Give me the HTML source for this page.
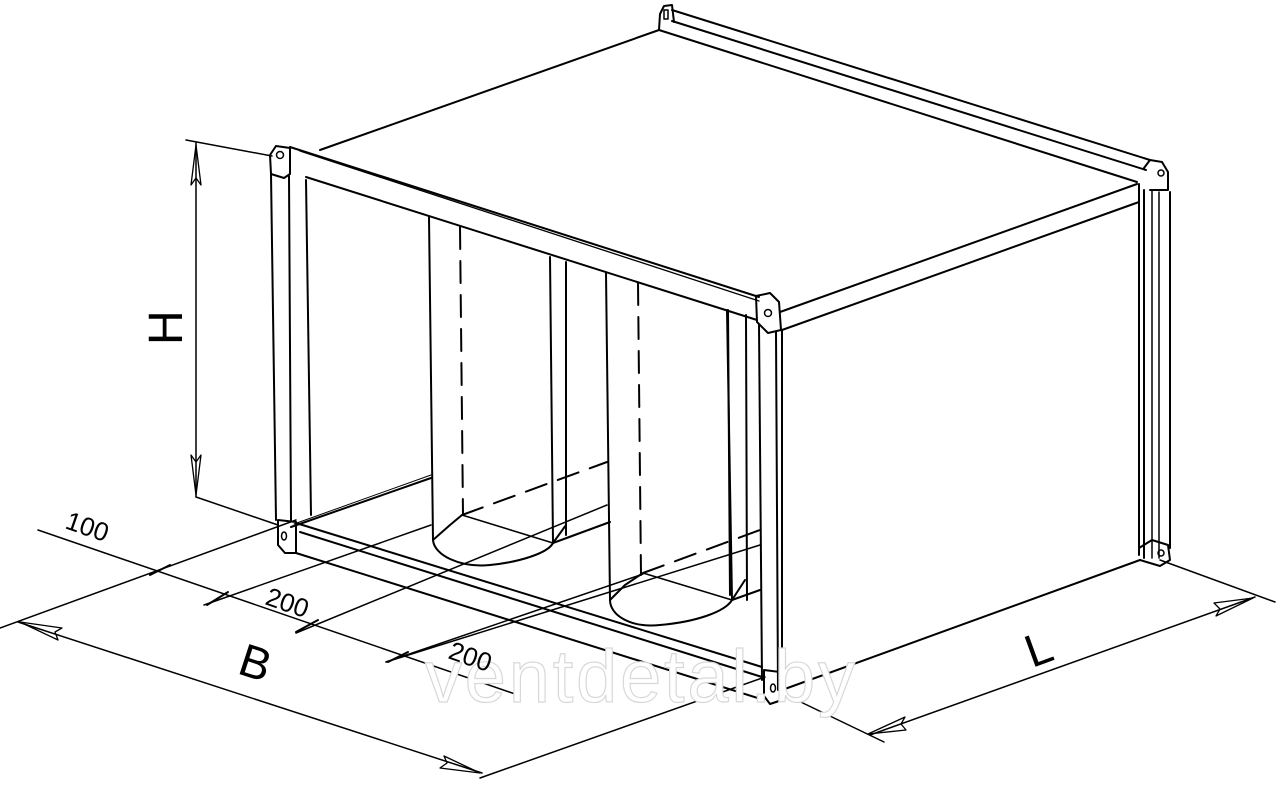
<!DOCTYPE html>
<html><head><meta charset="utf-8"><style>
html,body{margin:0;padding:0;background:#fff;}
svg{display:block;}
text{font-family:"Liberation Sans",sans-serif;}
</style></head><body>
<svg width="1280" height="786" viewBox="0 0 1280 786" xmlns="http://www.w3.org/2000/svg">
<g fill="none" stroke="#000" stroke-width="2" stroke-linejoin="round" stroke-linecap="round">
<line x1="320" y1="150" x2="659" y2="30"/>
<line x1="672" y1="10" x2="1150" y2="160"/>
<line x1="672" y1="21" x2="1146" y2="170"/>
<line x1="659" y1="30" x2="1137" y2="182"/>
<path d="M659 30 L660 14 L664 6 L672 5 L674 22"/>
<rect x="664" y="10" width="4" height="9" stroke-width="1.5"/>
<path d="M1144 168 L1150 160 L1162 162 L1168 172 L1168 190 L1150 190"/>
<circle cx="1161" cy="173" r="3" stroke-width="1.5"/>
<line x1="780" y1="312" x2="1137" y2="184"/>
<line x1="782" y1="330" x2="1139" y2="202"/>
<line x1="1139" y1="184" x2="1139" y2="555"/>
<line x1="1144" y1="190" x2="1144" y2="558"/>
<line x1="1152" y1="190" x2="1152" y2="558" stroke-width="1.5"/>
<line x1="1159" y1="192" x2="1159" y2="558" stroke-width="1.5"/>
<line x1="1170" y1="192" x2="1170" y2="548"/>
<path d="M1139 548 L1152 540 L1168 545 L1170 560 L1160 566 L1140 560"/>
<circle cx="1161" cy="553" r="3" stroke-width="1.5"/>
<line x1="782" y1="690" x2="1140" y2="560"/>
<line x1="290" y1="147" x2="759" y2="297"/>
<line x1="300" y1="151" x2="759" y2="301" stroke-width="1.3"/>
<line x1="306" y1="177" x2="757" y2="320"/>
<path d="M271 174 L270 155 L276 146 L290 148 L290 174 L284 178 Z"/>
<circle cx="280" cy="155" r="3.5" stroke-width="1.5"/>
<line x1="271" y1="174" x2="276" y2="520"/>
<line x1="289" y1="176" x2="291" y2="520"/>
<line x1="306" y1="180" x2="311" y2="515"/>
<path d="M278 520 L296 522 L296 553 L285 553 L278 545 Z"/>
<ellipse cx="284" cy="536" rx="2.5" ry="4" stroke-width="1.5"/>
<path d="M756 296 L770 293 L779 302 L781 330 L768 333 L757 322 Z"/>
<circle cx="768" cy="313" r="3.5" stroke-width="1.5"/>
<line x1="728" y1="310" x2="730" y2="595"/>
<line x1="746" y1="315" x2="747" y2="600"/>
<line x1="759" y1="325" x2="762" y2="680"/>
<line x1="776" y1="332" x2="778" y2="690"/>
<line x1="782" y1="330" x2="782" y2="692"/>
<path d="M764 670 L780 672 L782 700 L770 704 L764 696 Z"/>
<ellipse cx="773" cy="688" rx="2.5" ry="4" stroke-width="1.5"/>
<line x1="296" y1="523" x2="762" y2="667"/>
<line x1="300" y1="532" x2="762" y2="677"/>
<line x1="296" y1="553" x2="764" y2="700"/>
<line x1="291" y1="527" x2="431" y2="478"/>
<line x1="294" y1="524" x2="431" y2="475" stroke-width="1"/>
<line x1="429" y1="217" x2="433" y2="540"/>
<line x1="460" y1="227" x2="463" y2="515" stroke-dasharray="22 12"/>
<line x1="550" y1="257" x2="553" y2="543"/>
<line x1="566" y1="262" x2="566" y2="535"/>
<path d="M433 540 C434 555 460 568 490 565 C520 562 548 553 553 543"/>
<path d="M433 540 L450 525 L462 515"/>
<path d="M553 543 L566 525"/>
<line x1="462" y1="515" x2="607" y2="462" stroke-dasharray="22 12"/>
<line x1="553" y1="543" x2="610" y2="522"/>
<line x1="462" y1="515" x2="553" y2="543" stroke-width="1.5"/>
<line x1="606" y1="273" x2="610" y2="600"/>
<line x1="638" y1="283" x2="641" y2="575" stroke-dasharray="22 12"/>
<line x1="727" y1="310" x2="732" y2="600"/>
<path d="M610 600 C610 615 630 628 660 625 C695 622 725 612 732 600"/>
<path d="M610 600 L625 585 L643 573"/>
<path d="M732 600 L745 580"/>
<line x1="643" y1="573" x2="760" y2="530" stroke-dasharray="22 12"/>
<line x1="732" y1="600" x2="760" y2="590"/>
<line x1="643" y1="573" x2="732" y2="600" stroke-width="1.5"/>
<line x1="196" y1="143" x2="196" y2="497" stroke-width="1.5"/>
<line x1="186" y1="140" x2="272" y2="156" stroke-width="1.5"/>
<line x1="196" y1="497" x2="278" y2="525" stroke-width="1.5"/>
<path d="M196 145 L191 185 L196 178 L201 185 Z" stroke-width="1.3"/>
<path d="M196 495 L191 455 L196 462 L201 455 Z" stroke-width="1.3"/>
<line x1="38" y1="530" x2="518" y2="695" stroke-width="1.5"/>
<line x1="0" y1="628" x2="296" y2="520" stroke-width="1.5"/>
<line x1="204" y1="605" x2="431" y2="525" stroke-width="1.5"/>
<line x1="296" y1="633" x2="607" y2="505" stroke-width="1.5"/>
<line x1="386" y1="662" x2="643" y2="574" stroke-width="1.5"/>
<line x1="386" y1="662" x2="760" y2="545" stroke-width="1.5"/>
<line x1="150" y1="575" x2="170" y2="565" stroke-width="2"/>
<line x1="207" y1="605" x2="228" y2="592" stroke-width="2"/>
<line x1="296" y1="632" x2="318" y2="620" stroke-width="2"/>
<line x1="388" y1="662" x2="408" y2="652" stroke-width="2"/>
<line x1="18" y1="622" x2="482" y2="773" stroke-width="1.5"/>
<line x1="480" y1="778" x2="765" y2="677" stroke-width="1.5"/>
<path d="M20 622 L62 628 L55 632 L58 640 Z" stroke-width="1.3"/>
<path d="M480 773 L440 768 L447 763 L444 756 Z" stroke-width="1.3"/>
<line x1="870" y1="735" x2="1255" y2="597" stroke-width="1.5"/>
<line x1="782" y1="693" x2="884" y2="742" stroke-width="1.5"/>
<line x1="1160" y1="560" x2="1275" y2="602" stroke-width="1.5"/>
<path d="M868 734 L905 717 L901 724 L906 730 Z" stroke-width="1.3"/>
<path d="M1253 598 L1216 616 L1220 609 L1214 603 Z" stroke-width="1.3"/>
</g>
<text x="425" y="702" font-size="74" fill="#fff" stroke="#d8d8d8" stroke-width="1.2" textLength="430">ventdetal.by</text>
<g font-size="26" fill="#000">
<text transform="translate(64,528) rotate(19)">100</text>
<text transform="translate(264,604) rotate(19)">200</text>
<text transform="translate(447,658) rotate(19)">200</text>
</g>
<text transform="translate(236,673) rotate(18)" font-size="46" fill="#000">B</text>
<text transform="translate(182,345) rotate(-90)" font-size="48" fill="#000">H</text>
<text transform="translate(1032,668) rotate(-20)" font-size="46" fill="#000">L</text>
</svg>
</body></html>
